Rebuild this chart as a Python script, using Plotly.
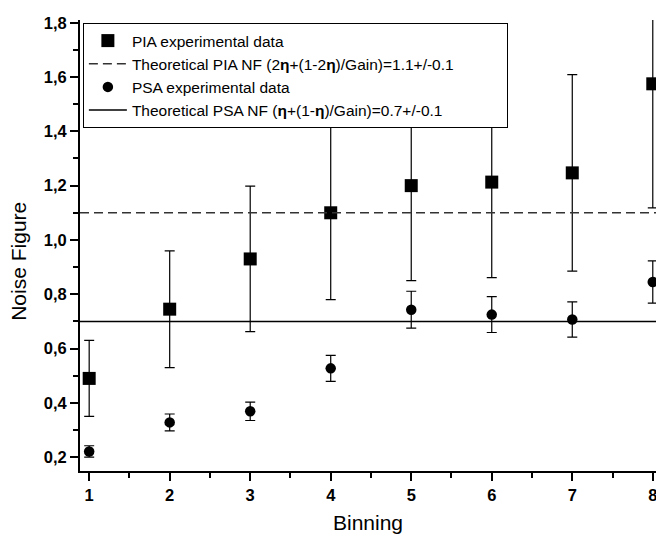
import plotly.graph_objects as go

# ---- data ----
binning = [1, 2, 3, 4, 5, 6, 7, 8]
pia_nf = [0.49, 0.745, 0.93, 1.10, 1.20, 1.213, 1.247, 1.575]
pia_err = [0.14, 0.215, 0.268, 0.32, 0.35, 0.352, 0.362, 0.457]
psa_nf = [0.221, 0.328, 0.369, 0.527, 0.743, 0.725, 0.707, 0.845]
psa_err = [0.021, 0.031, 0.034, 0.048, 0.068, 0.066, 0.065, 0.078]
theory_pia = 1.1
theory_psa = 0.7

x_tickvals = [1, 2, 3, 4, 5, 6, 7, 8]
x_ticktext = ["1", "2", "3", "4", "5", "6", "7", "8"]
y_tickvals = [0.2, 0.4, 0.6, 0.8, 1.0, 1.2, 1.4, 1.6, 1.8]
y_ticktext = ["0,2", "0,4", "0,6", "0,8", "1,0", "1,2", "1,4", "1,6", "1,8"]

PAD = "\u00a0" * 11
names = [
    "PIA experimental data",
    "Theoretical PIA NF (2<b>η</b>+(1-2<b>η</b>)/Gain)=1.1+/-0.1" + PAD,
    "PSA experimental data",
    "Theoretical PSA NF (<b>η</b>+(1-<b>η</b>)/Gain)=0.7+/-0.1",
]

X_RANGE = [0.886, 8.04]
Y_RANGE = [0.149, 1.81]

FONT = "Liberation Sans, Arial, sans-serif"

fig = go.Figure()

fig.add_trace(go.Scatter(
    x=binning, y=pia_nf, mode="markers", name=names[0],
    marker=dict(symbol="square", size=13, color="black"),
    error_y=dict(type="data", array=pia_err, visible=True, color="black",
                 thickness=1.2, width=5),
))
fig.add_trace(go.Scatter(
    x=X_RANGE, y=[theory_pia, theory_pia], mode="lines", name=names[1],
    line=dict(color="#333333", width=1.5, dash="9px,5px"),
))
fig.add_trace(go.Scatter(
    x=binning, y=psa_nf, mode="markers", name=names[2],
    marker=dict(symbol="circle", size=10.5, color="black"),
    error_y=dict(type="data", array=psa_err, visible=True, color="black",
                 thickness=1.2, width=5),
))
fig.add_trace(go.Scatter(
    x=X_RANGE, y=[theory_psa, theory_psa], mode="lines", name=names[3],
    line=dict(color="black", width=1.5),
))

axis_common = dict(
    showgrid=False, zeroline=False, showline=True, linecolor="black",
    linewidth=2, ticks="outside", ticklen=8, tickwidth=2, tickcolor="black",
    automargin=False, ticklabeloverflow="allow",
    tickfont=dict(family=FONT, size=16.5, color="black", weight="bold"),
)

# the page adds an 8px body margin; keep the figure inside the visible body box
fig.update_layout(
    width=648, height=529,
    margin=dict(l=72, r=0, t=12, b=66, autoexpand=False),
    paper_bgcolor="white", plot_bgcolor="white",
    font=dict(family=FONT, color="black"),
    showlegend=True,
    legend=dict(
        x=0.005, y=0.9933, xanchor="left", yanchor="top",
        bgcolor="white", bordercolor="black", borderwidth=1,
        font=dict(family=FONT, size=15.5, color="black"),
        itemwidth=38, tracegroupgap=0,
    ),
    xaxis=dict(
        range=X_RANGE, tickvals=x_tickvals, ticktext=x_ticktext,
        minor=dict(tickvals=[1.5, 2.5, 3.5, 4.5, 5.5, 6.5, 7.5],
                   ticks="outside", ticklen=5, tickwidth=2, tickcolor="black"),
        title=dict(text="Binning", font=dict(family=FONT, size=21, color="black"),
                   standoff=13),
        **axis_common,
    ),
    yaxis=dict(
        range=Y_RANGE, tickvals=y_tickvals, ticktext=y_ticktext,
        minor=dict(tickvals=[0.3, 0.5, 0.7, 0.9, 1.1, 1.3, 1.5, 1.7],
                   ticks="outside", ticklen=5, tickwidth=2, tickcolor="black"),
        **axis_common,
    ),
    annotations=[dict(
        text="Noise Figure", textangle=-90, showarrow=False,
        xref="paper", yref="paper", x=-0.108, y=0.4656,
        xanchor="center", yanchor="middle",
        font=dict(family=FONT, size=21, color="black"),
    )],
)

fig.write_html("out.html")
